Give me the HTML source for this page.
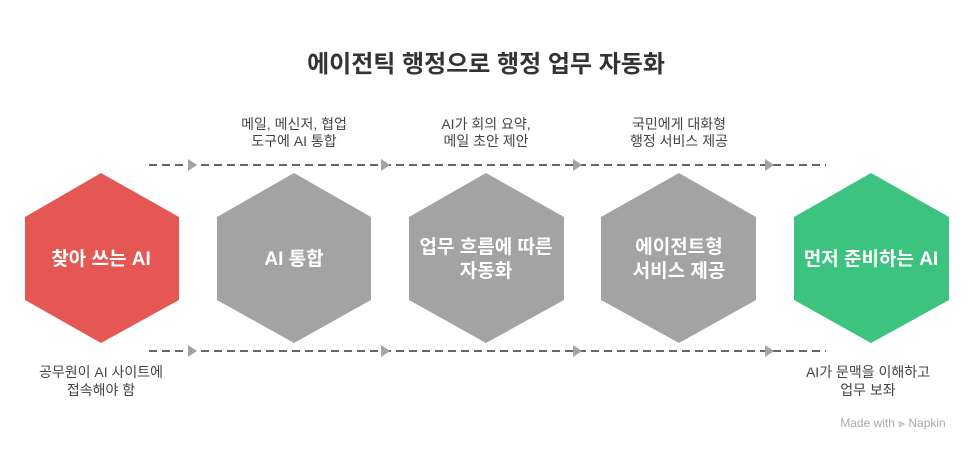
<!DOCTYPE html>
<html><head><meta charset="utf-8"><style>
body{margin:0;width:972px;height:451px;background:#fff;overflow:hidden;font-family:"Liberation Sans","Noto Sans CJK KR",sans-serif}
</style></head><body>
<svg width="972" height="451" xmlns="http://www.w3.org/2000/svg" style="font-family:'Liberation Sans','Noto Sans CJK KR',sans-serif">
<text x="486" y="72" text-anchor="middle" font-size="24" font-weight="bold" fill="#333">에이전틱 행정으로 행정 업무 자동화</text>
<g stroke="#666" stroke-width="2" stroke-dasharray="8,5" fill="none">
<line x1="149" y1="165" x2="826" y2="165"/>
<line x1="149" y1="351" x2="826" y2="351"/>
</g>
<g fill="#a3a3a3">
<polygon points="188,159 197,165 188,171"/><polygon points="381,159 390,165 381,171"/><polygon points="573,159 582,165 573,171"/><polygon points="765,159 774,165 765,171"/>
<polygon points="188,345 197,351 188,357"/><polygon points="381,345 390,351 381,357"/><polygon points="573,345 582,351 573,357"/><polygon points="765,345 774,351 765,357"/>
</g>
<polygon points="101,173 179,217 179,300 101,343 25,300 25,217" fill="#e55753"/>
<polygon points="294,173 371,217 371,300 294,343 217,300 217,217" fill="#a3a3a3"/>
<polygon points="486,173 564,217 564,300 486,343 409,300 409,217" fill="#a3a3a3"/>
<polygon points="679,173 756,217 756,300 679,343 601,300 601,217" fill="#a3a3a3"/>
<polygon points="871,173 949,217 949,300 871,343 794,300 794,217" fill="#3dc380"/>
<g fill="#fff" font-size="19" font-weight="bold" text-anchor="middle">
<text x="101" y="265">찾아 쓰는 AI</text>
<text x="294" y="265">AI 통합</text>
<text x="486" y="253">업무 흐름에 따른</text>
<text x="486" y="277">자동화</text>
<text x="679" y="253">에이전트형</text>
<text x="679" y="277">서비스 제공</text>
<text x="871" y="265">먼저 준비하는 AI</text>
</g>
<g fill="#444" font-size="14" text-anchor="middle">
<text x="294" y="129">메일, 메신저, 협업</text>
<text x="294" y="146">도구에 AI 통합</text>
<text x="486" y="129">AI가 회의 요약,</text>
<text x="486" y="146">메일 초안 제안</text>
<text x="679" y="129">국민에게 대화형</text>
<text x="679" y="146">행정 서비스 제공</text>
<text x="101" y="377">공무원이 AI 사이트에</text>
<text x="101" y="395">접속해야 함</text>
<text x="868" y="377">AI가 문맥을 이해하고</text>
<text x="868" y="395">업무 보좌</text>
</g>
<text x="893" y="427" text-anchor="middle" font-size="12" fill="#aaa">Made with ⫸ Napkin</text>
</svg>
</body></html>
